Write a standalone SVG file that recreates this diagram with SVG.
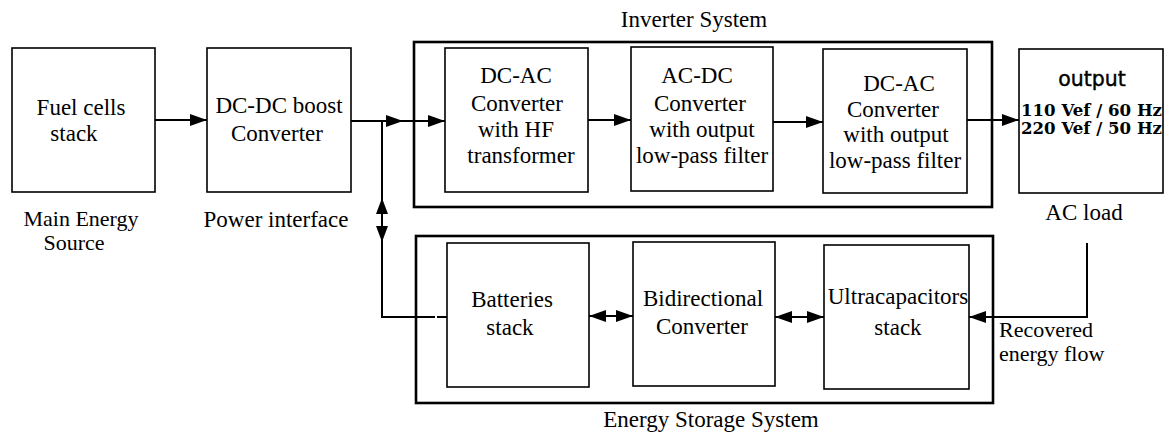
<svg xmlns="http://www.w3.org/2000/svg" width="1171" height="435" viewBox="0 0 1171 435">
<style>
.bg{fill:#ffffff}
.box{fill:#ffffff;stroke:#000;stroke-width:1.6}
.outer{fill:none;stroke:#000;stroke-width:2.6}
.t{font-family:"Liberation Serif","Times New Roman",serif;font-size:23px;fill:#000;text-anchor:middle}
.t2{font-family:"Liberation Serif","Times New Roman",serif;font-size:22px;fill:#000;text-anchor:middle}
.tl{font-family:"Liberation Serif","Times New Roman",serif;font-size:22px;fill:#000}
.sans{font-family:"DejaVu Sans",Verdana,sans-serif;font-size:20.5px;fill:#000;text-anchor:middle;stroke:#000;stroke-width:0.4}
.vf{font-family:"DejaVu Serif",serif;font-weight:bold;font-size:17.5px;fill:#000}
.c{fill:none;stroke:#000;stroke-width:2}
.ah{fill:#000}
</style>
<defs>
<marker id="arr" viewBox="0 0 17 12" refX="17" refY="6" markerWidth="17" markerHeight="12" markerUnits="userSpaceOnUse" orient="auto-start-reverse">
<path d="M0,0 L17,6 L0,12 Z" fill="#000"/>
</marker>
</defs>
<rect class="bg" x="0" y="0" width="1171" height="435"/>

<g id="inverter-system">
<rect class="outer" x="414" y="42" width="578" height="165"/>
<text class="t" x="694" y="27">Inverter System</text>
</g>
<g id="energy-storage-system">
<rect class="outer" x="416" y="236" width="577" height="167"/>
<text class="t" x="711" y="427">Energy Storage System</text>
</g>

<g id="fuel-cells">
<rect class="box" x="12" y="48" width="143" height="144"/>
<text class="t" x="81" y="115">Fuel cells</text>
<text class="t" x="74" y="141">stack</text>
<text class="t2" x="81" y="226">Main Energy</text>
<text class="t2" x="74" y="250">Source</text>
</g>
<g id="dcdc-boost">
<rect class="box" x="207" y="48" width="144" height="144"/>
<text class="t" x="279" y="113">DC-DC boost</text>
<text class="t" x="277" y="141">Converter</text>
<text class="t" x="276" y="227">Power interface</text>
</g>
<g id="dcac-hf">
<rect class="box" x="445" y="48" width="143" height="144"/>
<text class="t" x="516" y="83">DC-AC</text>
<text class="t" x="517" y="111">Converter</text>
<text class="t" x="516" y="137">with HF</text>
<text class="t" x="521" y="163">transformer</text>
</g>
<g id="acdc-filter">
<rect class="box" x="631" y="47" width="142" height="144"/>
<text class="t" x="697" y="83">AC-DC</text>
<text class="t" x="700" y="111">Converter</text>
<text class="t" x="702" y="137">with output</text>
<text class="t" x="702" y="163">low-pass filter</text>
</g>
<g id="dcac-filter">
<rect class="box" x="823" y="49" width="144" height="144"/>
<text class="t" x="899" y="91">DC-AC</text>
<text class="t" x="893" y="117">Converter</text>
<text class="t" x="896" y="142">with output</text>
<text class="t" x="895" y="168">low-pass filter</text>
</g>
<g id="output">
<rect class="box" x="1019" y="49" width="144" height="144"/>
<text class="sans" x="1092" y="86">output</text>
<text class="vf" x="1021" y="116" textLength="141" lengthAdjust="spacingAndGlyphs">110 Vef / 60 Hz</text>
<text class="vf" x="1021" y="134" textLength="141" lengthAdjust="spacingAndGlyphs">220 Vef / 50 Hz</text>
<text class="t" x="1084" y="220">AC load</text>
</g>
<g id="batteries">
<rect class="box" x="447" y="243" width="142" height="144"/>
<text class="t" x="512" y="307">Batteries</text>
<text class="t" x="510" y="335">stack</text>
</g>
<g id="bidirectional">
<rect class="box" x="633" y="242" width="142" height="144"/>
<text class="t" x="703" y="306">Bidirectional</text>
<text class="t" x="702" y="334">Converter</text>
</g>
<g id="ultracapacitors">
<rect class="box" x="824" y="245" width="145" height="144"/>
<text class="t" x="898" y="304">Ultracapacitors</text>
<text class="t" x="898" y="335">stack</text>
</g>
<g id="recovered-label">
<text class="tl" x="999" y="337">Recovered</text>
<text class="tl" x="999" y="361">energy flow</text>
</g>

<g id="connectors">
<line class="c" x1="155" y1="120" x2="207" y2="120" marker-end="url(#arr)"/>
<line class="c" x1="351" y1="121" x2="403" y2="121" marker-end="url(#arr)"/>
<line class="c" x1="403" y1="121" x2="445" y2="121" marker-end="url(#arr)"/>
<path class="c" d="M382,121 V317 H435"/>
<line class="c" x1="437" y1="317" x2="447" y2="317"/>
<path class="ah" d="M382,198 L388,214 L376,214 Z"/>
<path class="ah" d="M382,242 L388,226 L376,226 Z"/>
<line class="c" x1="588" y1="120" x2="631" y2="120" marker-end="url(#arr)"/>
<line class="c" x1="773" y1="122" x2="823" y2="122" marker-end="url(#arr)"/>
<line class="c" x1="967" y1="120" x2="1019" y2="120" marker-end="url(#arr)"/>
<line class="c" x1="589" y1="316" x2="633" y2="316" marker-start="url(#arr)" marker-end="url(#arr)"/>
<line class="c" x1="775" y1="317" x2="824" y2="317" marker-start="url(#arr)" marker-end="url(#arr)"/>
<path class="c" d="M1087,243 V317 H969" marker-end="url(#arr)"/>
</g>
</svg>
